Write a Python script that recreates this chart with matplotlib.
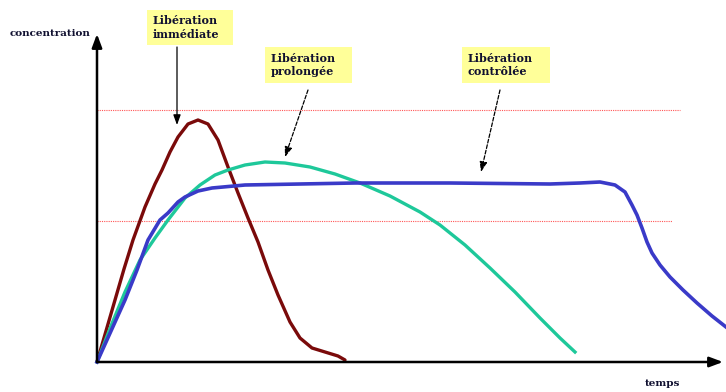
import matplotlib.pyplot as plt
from matplotlib.patches import Rectangle

# Axis origin in the picture: time and concentration in arbitrary units
x0, y0 = 97, 362

# Libération immédiate (time, concentration)
imm_t = [0, 9, 18, 27, 36, 48, 58, 65, 73, 81, 91, 101, 111, 121, 131, 141, 151, 161, 171, 181, 193, 203, 215, 228, 241, 248]
imm_c = [0, 31, 62, 93, 122, 155, 178, 192, 210, 225, 238, 242, 238, 222, 195, 169, 144, 120, 92, 67, 40, 24, 14, 10, 6, 2]

# Libération prolongée
pro_t = [0, 14, 28, 43, 58, 71, 88, 103, 118, 131, 148, 168, 188, 213, 238, 263, 293, 323, 343, 368, 393, 418, 443, 463, 478]
pro_c = [0, 36, 70, 102, 124, 142, 164, 177, 187, 192, 197, 200, 199, 195, 188, 179, 166, 150, 137, 117, 94, 70, 44, 24, 10]

# Libération contrôlée
ctl_t = [0, 14, 28, 40, 51, 63, 71, 81, 88, 101, 115, 148, 203, 258, 353, 453, 483, 503, 518, 528, 535,
         540, 545, 550, 555, 563, 573, 586, 600, 615, 629]
ctl_c = [0, 31, 62, 92, 122, 142, 149, 160, 165, 171, 174, 177, 178, 179, 179, 178, 179, 180, 177, 170, 157,
         147, 134, 120, 109, 97, 85, 72, 59, 46, 35]

# Reference levels (dotted red lines)
levels = [252, 141]
level_ends = [583, 575]

fig = plt.figure(figsize=(7.26, 3.92), dpi=100)
ax = fig.add_axes([0, 0, 1, 1])
ax.set_xlim(-x0, 726 - x0)
ax.set_ylim(y0 - 392, y0)
ax.axis("off")

serif = "DejaVu Serif"

# axes with arrows
head = "-|>,head_length=0.8,head_width=0.3"
ax.annotate("", xy=(626, 0), xytext=(0, 0),
            arrowprops=dict(arrowstyle=head, lw=1.8, color="black", shrinkA=0, shrinkB=0))
ax.annotate("", xy=(0, 328), xytext=(0, 0),
            arrowprops=dict(arrowstyle=head, lw=1.8, color="black", shrinkA=0, shrinkB=0))

for lv, end in zip(levels, level_ends):
    ax.plot([0, end], [lv, lv], color="#ff5555", lw=0.8, ls=(0, (1, 1)))

ax.plot(imm_t, imm_c, color="#7a0a0a", lw=2.4, solid_joinstyle="round", solid_capstyle="round")
ax.plot(pro_t, pro_c, color="#1ec89a", lw=2.4, solid_joinstyle="round")
ax.plot(ctl_t, ctl_c, color="#3a3ac8", lw=2.6, solid_joinstyle="round")

ax.text(-87, 329, "concentration", fontsize=7.5, fontweight="bold", family=serif,
        color="#101030", ha="left", va="center")
ax.text(548, -21, "temps", fontsize=7.5, fontweight="bold", family=serif,
        color="#101030", ha="left", va="center")

labels = ["Libération\nimmédiate", "Libération\nprolongée", "Libération\ncontrôlée"]
boxes = [(50, 317, 86, 35), (168, 279, 87, 36), (365, 279, 88, 36)]
arrows = [((80, 315), (80, 237), "-"), ((211, 272), (188, 205), (0, (3, 1.5))),
          ((403, 272), (384, 190), (0, (3, 1.5)))]
for txt, (bx, by, bw, bh), (a0, a1, st) in zip(labels, boxes, arrows):
    ax.add_patch(Rectangle((bx, by), bw, bh, fc="#ffff99", ec="none"))
    ax.text(bx + 6, by + bh / 2, txt, fontsize=8, fontweight="bold", family=serif,
            color="#101030", ha="left", va="center", linespacing=1.3)
    ax.annotate("", xy=a1, xytext=a0,
                arrowprops=dict(arrowstyle="-|>,head_length=0.6,head_width=0.22", lw=0.9,
                                ls=st, color="black", shrinkA=0, shrinkB=0))

fig.savefig("out.png", dpi=100)
